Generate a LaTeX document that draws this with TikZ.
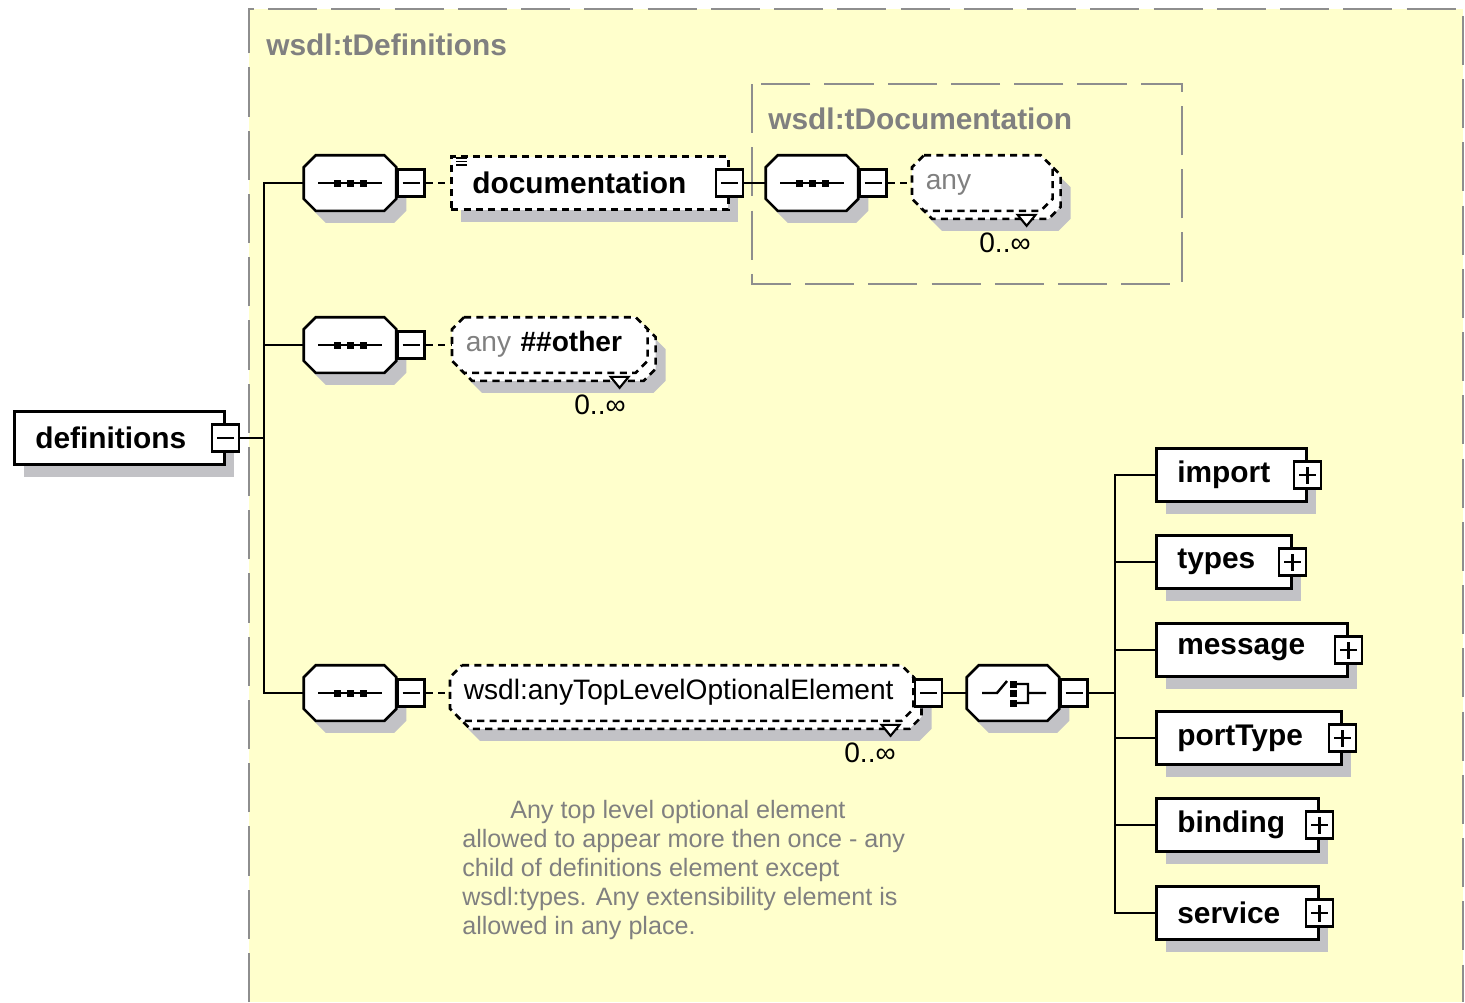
\documentclass[tikz,border=0pt]{standalone}
\usepackage{fontspec}
\setmainfont{Liberation Sans}
\usetikzlibrary{shadows,calc}

\definecolor{panelyellow}{HTML}{FFFFCC}
\definecolor{shadowgray}{HTML}{C2C2C6}
\definecolor{framegray}{HTML}{8E8E8E}
\definecolor{labelgray}{HTML}{808080}

% rectangle with cut corners, for compositors and wildcards
\makeatletter
\pgfkeys{/pgf/octagon cut/.initial=0.24cm}
\pgfdeclareshape{octagon box}{%
  \inheritsavedanchors[from=rectangle]
  \inheritanchorborder[from=rectangle]
  \inheritanchor[from=rectangle]{center}
  \inheritanchor[from=rectangle]{mid}
  \inheritanchor[from=rectangle]{base}
  \inheritanchor[from=rectangle]{north}
  \inheritanchor[from=rectangle]{south}
  \inheritanchor[from=rectangle]{east}
  \inheritanchor[from=rectangle]{west}
  \inheritanchor[from=rectangle]{north east}
  \inheritanchor[from=rectangle]{north west}
  \inheritanchor[from=rectangle]{south east}
  \inheritanchor[from=rectangle]{south west}
  \backgroundpath{%
    \pgfmathsetlength\pgf@xc{\pgfkeysvalueof{/pgf/octagon cut}}%
    \southwest \pgf@xa=\pgf@x \pgf@ya=\pgf@y
    \northeast \pgf@xb=\pgf@x \pgf@yb=\pgf@y
    \pgfpathmoveto{\pgfqpoint{\dimexpr\pgf@xa+\pgf@xc\relax}{\pgf@yb}}%
    \pgfpathlineto{\pgfqpoint{\dimexpr\pgf@xb-\pgf@xc\relax}{\pgf@yb}}%
    \pgfpathlineto{\pgfqpoint{\pgf@xb}{\dimexpr\pgf@yb-\pgf@xc\relax}}%
    \pgfpathlineto{\pgfqpoint{\pgf@xb}{\dimexpr\pgf@ya+\pgf@xc\relax}}%
    \pgfpathlineto{\pgfqpoint{\dimexpr\pgf@xb-\pgf@xc\relax}{\pgf@ya}}%
    \pgfpathlineto{\pgfqpoint{\dimexpr\pgf@xa+\pgf@xc\relax}{\pgf@ya}}%
    \pgfpathlineto{\pgfqpoint{\pgf@xa}{\dimexpr\pgf@ya+\pgf@xc\relax}}%
    \pgfpathlineto{\pgfqpoint{\pgf@xa}{\dimexpr\pgf@yb-\pgf@xc\relax}}%
    \pgfpathclose}%
}
\makeatother

\tikzset{
  conn/.style={line width=1.5pt},
  optconn/.style={line width=1.5pt, dash pattern=on 4pt off 3pt},
  panelframe/.style={draw=framegray, line width=1.6pt, dash pattern=on 28pt off 8pt},
  boxshadow/.style={drop shadow={shadow xshift=0.2cm, shadow yshift=-0.24cm, fill=shadowgray, opacity=1}},
  elem/.style={draw, fill=white, line width=1.5pt, boxshadow, anchor=west,
    minimum height=1.06cm, minimum width=#1, text width=#1-0.84cm, inner xsep=0.42cm, align=left,
    font=\fontsize{17}{20}\selectfont\bfseries},
  optelem/.style={elem=#1, dash pattern=on 4pt off 3pt},
  comp/.style={octagon box, draw, fill=white, line width=1.5pt, boxshadow,
    minimum width=1.8cm, minimum height=1.06cm, inner sep=0pt},
  pmbox/.style={draw, fill=white, line width=1.5pt, minimum size=0.54cm, inner sep=0pt},
  minusbox/.style={pmbox, path picture={
    \draw[line width=1.3pt] ([xshift=-0.17cm]path picture bounding box.center) -- ([xshift=0.17cm]path picture bounding box.center);}},
  plusbox/.style={pmbox, path picture={
    \draw[line width=1.3pt] ([xshift=-0.17cm]path picture bounding box.center) -- ([xshift=0.17cm]path picture bounding box.center)
      ([yshift=-0.17cm]path picture bounding box.center) -- ([yshift=0.17cm]path picture bounding box.center);}},
  wild/.style={octagon box, draw, fill=white, line width=1.5pt, dash pattern=on 4pt off 3pt, anchor=west,
    drop shadow={shadow xshift=0.36cm, shadow yshift=-0.4cm, fill=shadowgray, opacity=1},
    copy shadow={shadow xshift=0.16cm, shadow yshift=-0.16cm, line width=1.5pt, dash pattern=on 4pt off 3pt},
    minimum height=1.06cm, minimum width=#1, text width=#1-0.5cm, inner xsep=0.25cm, inner ysep=0pt, align=left,
    text height=0.9em, text depth=0.2em, font=\fontsize{16}{19}\selectfont},
  notch/.style={draw, fill=white, line width=1.2pt},
  occurs/.style={font=\fontsize{16}{19}\selectfont, inner sep=0pt},
  title/.style={text=labelgray, anchor=west, inner sep=0pt, font=\fontsize{17}{20}\selectfont\bfseries}
}

% symbols drawn inside the compositors
\newcommand\seqsym[1]{%
  \draw[line width=1.4pt] ([xshift=-0.64cm]#1.center) -- ([xshift=0.64cm]#1.center);
  \foreach \dx in {-0.26cm,0cm,0.26cm}
    \fill ([xshift=\dx]#1.center) +(-3.5,-3.5) rectangle +(3.5,3.5);}
\newcommand\chosym[1]{%
  \draw[line width=1.4pt] (#1.center) ++(-31,0) -- ++(15,0) -- ++(10,-12)
    (#1.center) ++(4,-9) -- ++(11,0) -- ++(0,19) -- ++(-11,0)
    (#1.center) ++(15,0) -- ++(18,0);
  \foreach \dy in {-9,0,10}
    \fill (#1.center) ++(0.5,\dy) +(-3.5,-3.5) rectangle +(3.5,3.5);}

\begin{document}
\begin{tikzpicture}[x=0.02cm, y=-0.02cm]
\useasboundingbox (0,0) rectangle (1465,1002);
\fill[panelyellow] (249,9) rectangle (1463,1002);
\draw[panelframe] (249,1002) -- (249,9) -- (1463,9) -- (1463,1002);
\draw[panelframe] (752,84) rectangle (1182,284);
\node[title] (tDefs) at (266,45) {wsdl:tDefinitions};
\node[title] (tDoc) at (768,119) {wsdl:tDocumentation};

% root
\node[elem=4.2cm] (defs) at (13,438) {definitions};
\node[minusbox] (defsM) at (defs.east) {};

% sequences
\node[comp] (seqA) at (350,183) {};
\node[comp] (seqB) at (350,345) {};
\node[comp] (seqC) at (350,693) {};
\node[comp] (seqD) at (812,183) {};
\foreach \s in {seqA,seqB,seqC,seqD} {
  \node[minusbox, anchor=west] (\s M) at (\s.east) {};
  \seqsym{\s}
}

\node[optelem=5.54cm] (doc) at (450,183) {documentation};
\node[minusbox] (docM) at (doc.east) {};
\foreach \dy in {3,6.5,10}
  \draw[line width=0.9pt] ($(doc.north west)+(6,\dy)$) -- ++(11,0);

\node[wild=2.76cm] (anyA) at (912,183) {\textcolor{labelgray}{any}};
\node[wild=3.86cm] (anyB) at (452,345) {\textcolor{labelgray}{any} \textbf{\#\#other}};
\node[wild=9.22cm] (anyTop) at (450,693) {wsdl:anyTopLevelOptionalElement};
\node[minusbox] (anyTopM) at ([xshift=0.3cm]anyTop.east) {};
\foreach \n/\dx in {anyA/-26,anyB/-28,anyTop/-23}
  \draw[notch] ($(\n.south -| \n.east)+(\dx,8)$) ++(-9,-4) -- ++(18,0) -- ++(-9,11) -- cycle;
\node[occurs] (occA) at (1005,243) {0..∞};
\node[occurs] (occB) at (600,405) {0..∞};
\node[occurs] (occTop) at (870,753) {0..∞};

% choice
\node[comp] (cho) at (1013,693) {};
\node[minusbox, anchor=west] (choM) at (cho.east) {};
\chosym{cho}

\foreach \el/\w/\y in {import/3cm/475, types/2.7cm/562, message/3.82cm/650,
    portType/3.7cm/738, binding/3.24cm/825, service/3.24cm/913} {
  \node[elem=\w] (\el) at (1155,\y) {\el};
  \node[plusbox] (p\el) at (\el.east) {};
}

% connectors
\coordinate (jL) at (264,438);
\coordinate (jR) at (1115,693);
\draw[conn] (defsM.east) -- (jL);
\draw[conn] (seqA.west) -| (jL) |- (seqC.west);
\draw[conn] (seqB.west) -- (jL |- seqB.west);
\draw[optconn] (seqAM.east) -- (doc.west);
\draw[conn] (docM.east) -- (seqD.west);
\draw[optconn] (seqDM.east) -- (anyA.west);
\draw[optconn] (seqBM.east) -- (anyB.west);
\draw[optconn] (seqCM.east) -- (anyTop.west);
\draw[conn] (anyTopM.east) -- (cho.west);
\draw[conn] (choM.east) -- (jR);
\draw[conn] (import.west) -| (jR) |- (service.west);
\foreach \el in {types,message,portType,binding}
  \draw[conn] (\el.west) -- (jR |- \el.west);

\node[anchor=north west, inner sep=0pt, text=labelgray, align=left,
  font=\fontsize{14.3}{16.5}\selectfont] (note) at (462,800)
  {\hspace*{0.96cm}Any top level optional element\\
   allowed to appear more then once - any\\
   child of definitions element except\\
   wsdl:types. Any extensibility element is\\
   allowed in any place.};
\end{tikzpicture}
\end{document}
